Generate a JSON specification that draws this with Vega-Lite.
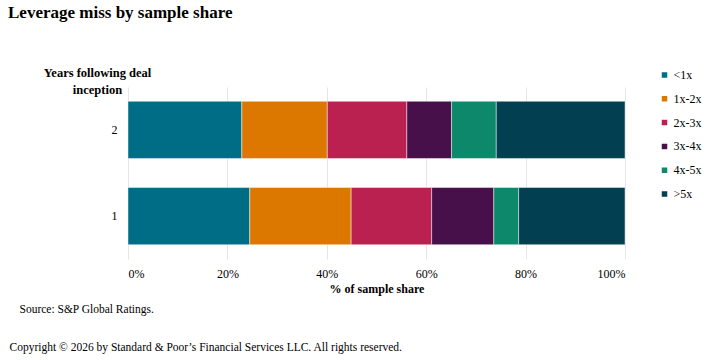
{
  "$schema": "https://vega.github.io/schema/vega-lite/v6.json",
  "width": 497,
  "height": 172,
  "autosize": {"type": "none"},
  "padding": {"left": 128, "top": 87, "right": 93, "bottom": 101},
  "background": "white",
  "title": {
    "text": "Leverage miss by sample share",
    "anchor": "start",
    "frame": "group",
    "dx": -120,
    "dy": -40,
    "font": "Liberation Serif",
    "fontSize": 17,
    "fontWeight": "bold",
    "color": "#000000"
  },
  "config": {"view": {"stroke": null}, "font": "Liberation Serif"},
  "data": {
    "values": [
      {"year": "2", "bucket": "<1x", "idx": 1, "share": 22.9},
      {"year": "2", "bucket": "1x-2x", "idx": 2, "share": 17.2},
      {"year": "2", "bucket": "2x-3x", "idx": 3, "share": 16.0},
      {"year": "2", "bucket": "3x-4x", "idx": 4, "share": 9.0},
      {"year": "2", "bucket": "4x-5x", "idx": 5, "share": 9.0},
      {"year": "2", "bucket": ">5x", "idx": 6, "share": 25.9},
      {"year": "1", "bucket": "<1x", "idx": 1, "share": 24.5},
      {"year": "1", "bucket": "1x-2x", "idx": 2, "share": 20.4},
      {"year": "1", "bucket": "2x-3x", "idx": 3, "share": 16.2},
      {"year": "1", "bucket": "3x-4x", "idx": 4, "share": 12.5},
      {"year": "1", "bucket": "4x-5x", "idx": 5, "share": 5.0},
      {"year": "1", "bucket": ">5x", "idx": 6, "share": 21.4}
    ]
  },
  "layer": [
    {
      "mark": {"type": "bar", "stroke": "#ffffff", "strokeWidth": 1, "strokeOpacity": 0.45},
      "encoding": {
        "y": {
          "field": "year",
          "type": "nominal",
          "sort": "descending",
          "scale": {"paddingInner": 0.337, "paddingOuter": 0.166},
          "axis": {
            "domain": false,
            "ticks": false,
            "labelPadding": 11,
            "labelFontSize": 12,
            "labelColor": "#000000",
            "labelFont": "Liberation Serif",
            "title": ["Years following deal", "inception"],
            "titleAngle": 0,
            "titleAlign": "center",
            "titleBaseline": "top",
            "titleX": -31,
            "titleY": -21,
            "titleLineHeight": 17,
            "titleFontSize": 12.5,
            "titleFontWeight": "bold",
            "titleFont": "Liberation Serif",
            "titleColor": "#000000"
          }
        },
        "x": {
          "field": "share",
          "type": "quantitative",
          "stack": "zero",
          "scale": {"domain": [0, 100]},
          "axis": {
            "orient": "bottom",
            "values": [0, 20, 40, 60, 80, 100],
            "labelExpr": "datum.value + '%'",
            "grid": true,
            "gridColor": "#e6e6e6",
            "domain": false,
            "ticks": false,
            "labelPadding": 9,
            "labelFontSize": 12,
            "labelColor": "#000000",
            "labelFont": "Liberation Serif",
            "title": "% of sample share",
            "titlePadding": 4,
            "titleFontSize": 12,
            "titleFontWeight": "bold",
            "titleFont": "Liberation Serif",
            "titleColor": "#000000"
          }
        },
        "color": {
          "field": "bucket",
          "type": "nominal",
          "scale": {
            "domain": ["<1x", "1x-2x", "2x-3x", "3x-4x", "4x-5x", ">5x"],
            "range": ["#006D87", "#DC7800", "#BA2050", "#48104A", "#0D886A", "#023F50"]
          },
          "legend": {
            "title": null,
            "orient": "none",
            "legendX": 530.5,
            "legendY": -18,
            "direction": "vertical",
            "symbolType": "square",
            "symbolSize": 49,
            "labelFontSize": 12,
            "labelFont": "Liberation Serif",
            "labelColor": "#000000",
            "labelOffset": 3,
            "rowPadding": 9.8
          }
        },
        "order": {"field": "idx", "type": "quantitative"}
      }
    },
    {
      "data": {"values": [{}]},
      "mark": {"type": "rule", "strokeOpacity": 0},
      "encoding": {
        "x": {
          "datum": 0,
          "type": "quantitative",
          "axis": {
            "orient": "bottom",
            "labels": false,
            "ticks": false,
            "domain": false,
            "grid": false,
            "title": "Source: S&P Global Ratings.",
            "titleX": -109,
            "titleY": 44,
            "titleAngle": 0,
            "titleAlign": "left",
            "titleBaseline": "top",
            "titleFontSize": 11.5,
            "titleFontWeight": "normal",
            "titleFont": "Liberation Serif",
            "titleColor": "#000000"
          }
        }
      }
    },
    {
      "data": {"values": [{}]},
      "mark": {"type": "rule", "strokeOpacity": 0},
      "encoding": {
        "x": {
          "datum": 0,
          "type": "quantitative",
          "axis": {
            "orient": "bottom",
            "labels": false,
            "ticks": false,
            "domain": false,
            "grid": false,
            "title": "Copyright © 2026 by Standard & Poor’s Financial Services LLC. All rights reserved.",
            "titleX": -119,
            "titleY": 82,
            "titleAngle": 0,
            "titleAlign": "left",
            "titleBaseline": "top",
            "titleFontSize": 11.5,
            "titleFontWeight": "normal",
            "titleFont": "Liberation Serif",
            "titleColor": "#000000"
          }
        }
      }
    }
  ],
  "resolve": {"axis": {"x": "independent"}}
}
